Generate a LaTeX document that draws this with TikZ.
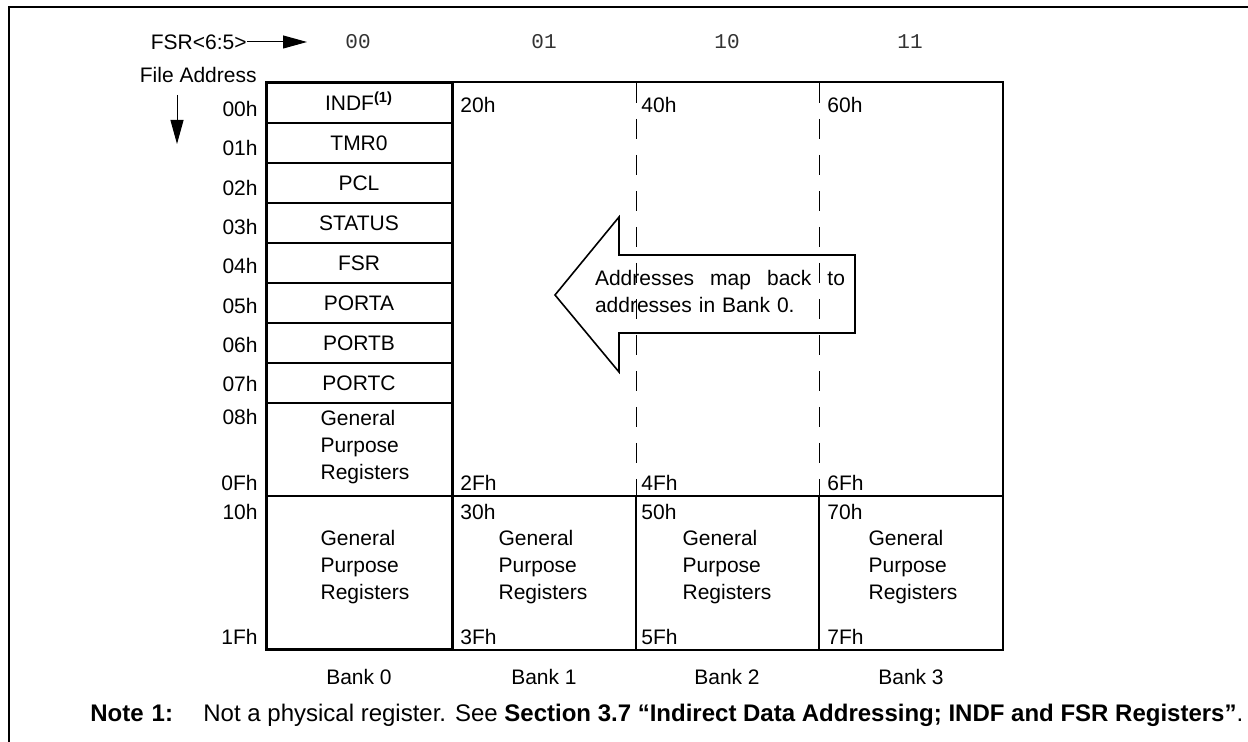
\documentclass[tikz,border=0pt]{standalone}
\usepackage{fontspec}
\setmainfont{Liberation Sans}
\setmonofont{Liberation Mono}
\usetikzlibrary{arrows.meta}

\def\regfont{\fontsize{10.5}{13.5}\selectfont}
\def\notefont{\fontsize{12}{14}\selectfont}
\tikzstyle{sfr}=[draw,line width=1pt,minimum width=93pt,minimum height=20pt,
                 inner sep=0pt,text height=7.6pt,text depth=0pt]
\tikzstyle{addr}=[anchor=east,inner sep=0pt]
\tikzstyle{bankaddr}=[anchor=west,inner sep=0pt]
\tikzstyle{gpr}=[align=left,inner sep=0pt]
\tikzstyle{bsel}=[font=\ttfamily\regfont,text=black!80,inner sep=0pt]
\tikzstyle{rule}=[line width=1pt]
\tikzstyle{mirror}=[line width=0.5pt,dash pattern=on 10pt off 8pt]
\tikzstyle{ptr}=[line width=0.5pt,-{Triangle[length=12pt,width=6.5pt]}]
\tikzstyle{note}=[anchor=base west,inner sep=0pt,font=\notefont]

\begin{document}
\begin{tikzpicture}[x=0.5pt,y=-0.5pt,font=\regfont]
  \useasboundingbox (0,0) rectangle (1248,742);
  % frame
  \draw[line width=1.2pt] (9,742) -- (9,7) -- (1248,7);

  % bank select bits
  \node[addr] (fsr) at (247,42) {FSR<6:5>};
  \coordinate (fsrtip) at (307,42);
  \path[ptr] (fsr) edge (fsrtip);
  \node[bsel] (sel0) at (358,42) {00};
  \node[bsel] (sel1) at (544,42) {01};
  \node[bsel] (sel2) at (727,42) {10};
  \node[bsel] (sel3) at (910,42) {11};

  % file address
  \node[addr] (fileaddr) at (257,75) {File Address};
  \coordinate (fatop) at (177,95);
  \coordinate (fatip) at (177,144);
  \path[ptr] (fatop) edge (fatip);

  % bank 0 special registers
  \node[sfr] (indf) at (359,103) {INDF\textsuperscript{\bfseries(1)}};
  \node[sfr] (tmr0) at (359,143) {TMR0};
  \node[sfr] (pcl) at (359,183) {PCL};
  \node[sfr] (status) at (359,223) {STATUS};
  \node[sfr] (fsrreg) at (359,263) {FSR};
  \node[sfr] (porta) at (359,303) {PORTA};
  \node[sfr] (portb) at (359,343) {PORTB};
  \node[sfr] (portc) at (359,383) {PORTC};
  \node[gpr] (gpr0a) at (365,447) {General\\Purpose\\Registers};

  \foreach \a [count=\i from 0] in {00h,01h,02h,03h,04h,05h,06h,07h}
    \node[addr] (a\a) at (258,109+39.3*\i) {\a};
  \node[addr] (a08h) at (258,417) {08h};
  \node[addr] (a0Fh) at (258,483) {0Fh};
  \node[addr] (a10h) at (258,512) {10h};
  \node[addr] (a1Fh) at (258,637) {1Fh};

  % bank outlines
  \draw[line width=1.5pt] (266,83) rectangle (452,650);
  \draw[rule] (452,82) -- (1003,82) -- (1003,650) -- (452,650);
  \draw[rule] (266,496) -- (1003,496);
  \draw[rule] (636,496) -- (636,650);
  \draw[rule] (819,496) -- (819,650);
  \draw[mirror] (636,83) -- (636,496);
  \draw[mirror] (819,83) -- (819,496);

  % banks 1 to 3
  \node[bankaddr] (a20h) at (460,105) {20h};
  \node[bankaddr] (a40h) at (641,105) {40h};
  \node[bankaddr] (a60h) at (827,105) {60h};
  \node[bankaddr] (a2Fh) at (460,483) {2Fh};
  \node[bankaddr] (a4Fh) at (641,483) {4Fh};
  \node[bankaddr] (a6Fh) at (827,483) {6Fh};
  \node[bankaddr] (a30h) at (460,512) {30h};
  \node[bankaddr] (a50h) at (641,512) {50h};
  \node[bankaddr] (a70h) at (827,512) {70h};
  \node[bankaddr] (a3Fh) at (460,637) {3Fh};
  \node[bankaddr] (a5Fh) at (641,637) {5Fh};
  \node[bankaddr] (a7Fh) at (827,637) {7Fh};

  \node[gpr] (gpr0b) at (365,567) {General\\Purpose\\Registers};
  \node[gpr] (gpr1) at (543,567) {General\\Purpose\\Registers};
  \node[gpr] (gpr2) at (727,567) {General\\Purpose\\Registers};
  \node[gpr] (gpr3) at (913,567) {General\\Purpose\\Registers};

  % mapping callout
  \draw[line width=0.8pt] (555,295) -- (619,217) -- (619,255) -- (855,255)
    -- (855,333) -- (619,333) -- (619,372) -- cycle;
  \node[text width=125pt,align=left,inner sep=0pt] (mapnote) at (720,291.5)
    {Addresses\hfill map\hfill back\hfill to\\addresses in Bank 0.};

  \node (bank0) at (359,677) {Bank 0};
  \node (bank1) at (544,677) {Bank 1};
  \node (bank2) at (727,677) {Bank 2};
  \node (bank3) at (911,677) {Bank 3};

  % note
  \node[note] (notelbl) at (90,721) {\bfseries Note\hspace{4pt}1:};
  \node[note] (notetxt) at (203,721)
    {Not a physical register. See \textbf{Section 3.7 “Indirect Data Addressing; INDF and FSR Registers”}.};
\end{tikzpicture}
\end{document}
